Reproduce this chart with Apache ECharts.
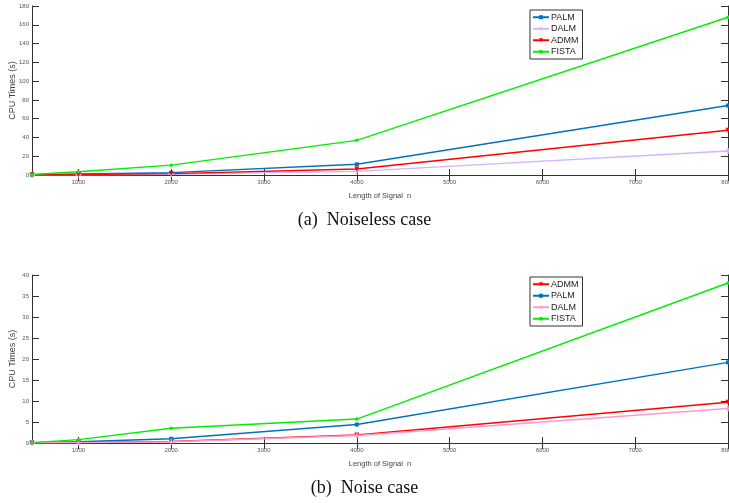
<!DOCTYPE html>
<html>
<head>
<meta charset="utf-8">
<script src="https://cdn.jsdelivr.net/npm/echarts@6/dist/echarts.min.js"></script>
<style>
  html, body { margin: 0; padding: 0; background: #fff; }
  #main { width: 729px; height: 503px; }
</style>
</head>
<body>
<div id="main"></div>
<script>
// signal lengths
var lengths = [500, 1000, 2000, 4000, 8000];
var xTicks = [1000, 2000, 3000, 4000, 5000, 6000, 7000, 8000];

// (a) noiseless case
var palmA  = [0.3, 1.0, 2.5, 11.4, 74];
var dalmA  = [0.1, 0.3, 0.8, 3.9, 25.6];
var admmA  = [0.2, 0.5, 1.5, 6.4, 47.6];
var fistaA = [0.5, 3.5, 10.5, 36.9, 168];

// (b) noise case
var admmB  = [0.05, 0.15, 0.35, 1.9, 9.7];
var palmB  = [0.1, 0.3, 1.0, 4.4, 19.2];
var dalmB  = [0.05, 0.1, 0.3, 1.8, 8.2];
var fistaB = [0.1, 0.8, 3.5, 5.7, 38.1];

var captions = ['(a)  Noiseless case', '(b)  Noise case'];

function pairs(v) {
  return lengths.map(function (x, i) { return [x, v[i]]; });
}

var plusPath = 'path://M-0.25,-1H0.25V-0.25H1V0.25H0.25V1H-0.25V0.25H-1V-0.25H-0.25Z';

var styles = {
  PALM:  { color: '#0072bd', symbol: 'rect', size: 4 },
  DALM:  { color: '#d6b3ff', symbol: plusPath, size: 6 },
  DALM2: { color: '#ff99cc', symbol: plusPath, size: 6 },
  ADMM:  { color: '#ff0000', symbol: 'triangle', size: 5, rotate: 180 },
  FISTA: { color: '#00ee00', symbol: 'circle', size: 3.5 }
};

function mk(name, st, data, idx) {
  return {
    name: name, type: 'line', xAxisIndex: idx * 2, yAxisIndex: idx * 2,
    data: pairs(data),
    symbol: st.symbol, symbolSize: st.size, symbolRotate: st.rotate || 0,
    showSymbol: true,
    lineStyle: { color: st.color, width: 1.4 },
    itemStyle: { color: st.color },
    animation: false
  };
}

var tickFont = { fontSize: 6, color: '#555', fontFamily: 'Liberation Sans' };
function plain(v) { return String(v); }

function xAxes(gi) {
  return [{
    type: 'value', gridIndex: gi, min: 500, max: 8000, position: 'bottom',
    name: 'Length of Signal  n', nameLocation: 'middle', nameGap: 17, nameMoveOverlap: false,
    nameTextStyle: { fontSize: 7.5, color: '#444', fontFamily: 'Liberation Sans' },
    axisLine: { lineStyle: { color: '#333', width: 1 } },
    axisTick: { inside: true, length: 6, customValues: xTicks, lineStyle: { color: '#333' } },
    axisLabel: Object.assign({ margin: 4, customValues: xTicks, formatter: plain }, tickFont),
    splitLine: { show: false }
  }, {
    type: 'value', gridIndex: gi, min: 500, max: 8000, position: 'top',
    axisLine: { lineStyle: { color: '#333', width: 1 } },
    axisTick: { inside: true, length: 6, customValues: xTicks, lineStyle: { color: '#333' } },
    axisLabel: { show: false },
    splitLine: { show: false }
  }];
}

function yAxes(gi, max, step) {
  return [{
    type: 'value', gridIndex: gi, min: 0, max: max, interval: step, position: 'left',
    name: 'CPU Times (s)', nameLocation: 'middle', nameGap: 15, nameMoveOverlap: false,
    nameTextStyle: { fontSize: 9, color: '#444', fontFamily: 'Liberation Sans' },
    axisLine: { show: true, lineStyle: { color: '#333', width: 1 } },
    axisTick: { show: true, inside: true, length: 7, lineStyle: { color: '#333' } },
    axisLabel: Object.assign({ margin: 3, formatter: plain }, tickFont),
    splitLine: { show: false }
  }, {
    type: 'value', gridIndex: gi, min: 0, max: max, interval: step, position: 'right',
    axisLine: { show: true, lineStyle: { color: '#333', width: 1 } },
    axisTick: { show: true, inside: true, length: 7, lineStyle: { color: '#333' } },
    axisLabel: { show: false },
    splitLine: { show: false }
  }];
}

function legend(top, names) {
  return {
    orient: 'vertical', left: 530, top: top, data: names,
    backgroundColor: '#fff', borderColor: '#333', borderWidth: 1,
    padding: [2, 4, 2, 2], itemWidth: 16, itemHeight: 5, itemGap: 1,
    textStyle: { fontSize: 9, lineHeight: 10.5, color: '#222', fontFamily: 'Liberation Sans', padding: [0, 0, 0, -3] }
  };
}

var chart = echarts.init(document.getElementById('main'));
chart.setOption({
  backgroundColor: '#fff',
  animation: false,
  grid: [
    { left: 32, top: 6, width: 696, height: 169, outerBoundsMode: 'none', containLabel: false },
    { left: 32, top: 275, width: 696, height: 168, outerBoundsMode: 'none', containLabel: false }
  ],
  xAxis: xAxes(0).concat(xAxes(1)),
  yAxis: yAxes(0, 180, 20).concat(yAxes(1, 40, 5)),
  legend: [
    legend(10, ['PALM', 'DALM', 'ADMM', 'FISTA']),
    legend(277, ['ADMM', 'PALM', 'DALM ', 'FISTA '])
  ],
  title: [
    { text: captions[0], left: 'center', top: 206,
      textStyle: { fontSize: 18, fontWeight: 'normal', color: '#111', fontFamily: 'Liberation Serif' } },
    { text: captions[1], left: 'center', top: 474,
      textStyle: { fontSize: 18, fontWeight: 'normal', color: '#111', fontFamily: 'Liberation Serif' } }
  ],
  series: [
    mk('PALM', styles.PALM, palmA, 0),
    mk('DALM', styles.DALM, dalmA, 0),
    mk('ADMM', styles.ADMM, admmA, 0),
    mk('FISTA', styles.FISTA, fistaA, 0),
    mk('ADMM', styles.ADMM, admmB, 1),
    mk('PALM', styles.PALM, palmB, 1),
    mk('DALM ', styles.DALM2, dalmB, 1),
    mk('FISTA ', styles.FISTA, fistaB, 1)
  ]
});
</script>
</body>
</html>
